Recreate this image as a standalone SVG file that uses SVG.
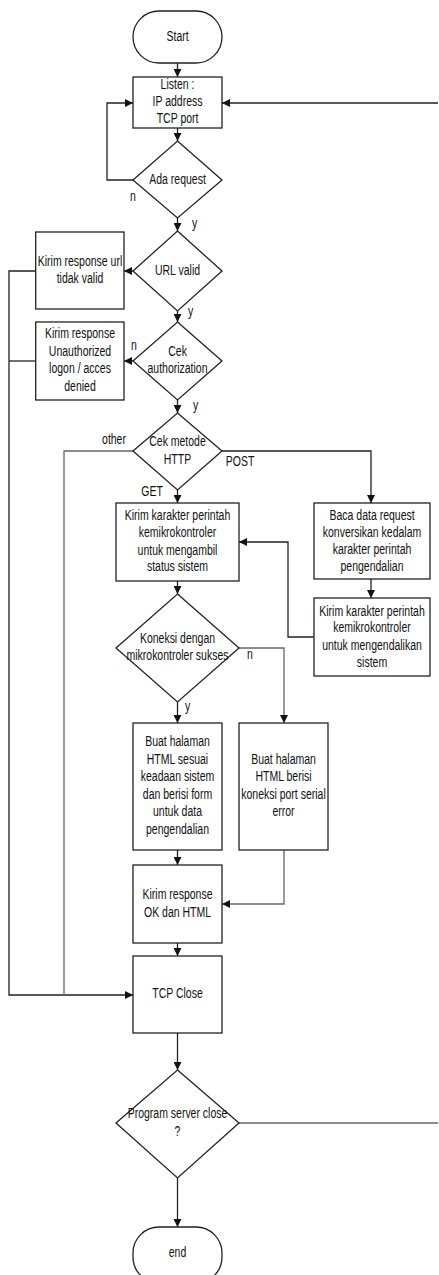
<svg xmlns="http://www.w3.org/2000/svg" width="439" height="1275" viewBox="0 0 439 1275">
<style>
.s{fill:#fff;stroke:#222;stroke-width:1.3}
.c{fill:none;stroke:#222;stroke-width:1.3}
.g{fill:none;stroke:#666;stroke-width:1.3}
text{font-family:"Liberation Sans",Arial,sans-serif;font-size:14px;fill:#111;text-anchor:middle;transform-box:fill-box;transform-origin:center;transform:scaleX(0.75)}
.l{text-anchor:start}
</style>
<defs>
<marker id="a" viewBox="0 0 10 10" refX="10" refY="5" markerWidth="8" markerHeight="8" markerUnits="userSpaceOnUse" orient="auto"><path d="M0,0L10,5L0,10z" fill="#111"/></marker>
</defs>
<g id="connectors">
<path class="c" d="M177.5,63V77" marker-end="url(#a)"/>
<path class="c" d="M438,103H222" marker-end="url(#a)"/>
<path class="c" d="M177.5,128V141" marker-end="url(#a)"/>
<path class="c" d="M133,180H107V103H133" marker-end="url(#a)"/>
<path class="c" d="M177.5,218V231" marker-end="url(#a)"/>
<path class="c" d="M133,271H124" marker-end="url(#a)"/>
<path class="c" d="M177.5,311V322" marker-end="url(#a)"/>
<path class="c" d="M133,361H124" marker-end="url(#a)"/>
<path class="c" d="M177.5,400V413" marker-end="url(#a)"/>
<path class="c" d="M35.7,271H9V995H133" marker-end="url(#a)"/>
<path class="c" d="M35.7,361H9"/>
<path class="g" d="M133,451H64V995"/>
<path class="c" d="M222,451H371V503" marker-end="url(#a)"/>
<path class="c" d="M177.5,490V503" marker-end="url(#a)"/>
<path class="c" d="M371,579V598" marker-end="url(#a)"/>
<path class="c" d="M314,637H288V542H239" marker-end="url(#a)"/>
<path class="c" d="M177.5,581V594" marker-end="url(#a)"/>
<path class="g" d="M239,648H284V723" marker-end="url(#a)"/>
<path class="c" d="M177.5,702V723" marker-end="url(#a)"/>
<path class="c" d="M177.5,850V865" marker-end="url(#a)"/>
<path class="g" d="M284,850V904H222" marker-end="url(#a)"/>
<path class="c" d="M177.5,943V956" marker-end="url(#a)"/>
<path class="c" d="M177.5,1033V1070" marker-end="url(#a)"/>
<path class="g" d="M239,1123H438"/>
<path class="c" d="M177.5,1178V1227" marker-end="url(#a)"/>
<text class="l" x="129" y="201">n</text>
<text class="l" x="191" y="228">y</text>
<text class="l" x="187" y="316">y</text>
<text class="l" x="130" y="350">n</text>
<text class="l" x="192" y="410">y</text>
<text x="114" y="444">other</text>
<text x="240" y="466">POST</text>
<text x="152" y="496">GET</text>
<text class="l" x="246" y="659">n</text>
<text class="l" x="184" y="711">y</text>
</g>
<g id="start"><rect class="s" x="133" y="11" width="89" height="52" rx="26" ry="26"/><text x="177.5" y="41.5">Start</text></g>
<g id="listen"><rect class="s" x="133" y="77" width="89" height="51"/><text x="177.5" y="89.5">Listen :</text><text x="177.5" y="106.5">IP address</text><text x="177.5" y="123.5">TCP port</text></g>
<g id="ada"><path class="s" d="M177.5,141L222,180L177.5,218L133,180Z"/><text x="177.5" y="184.5">Ada request</text></g>
<g id="url"><path class="s" d="M177.5,231L222,271L177.5,311L133,271Z"/><text x="177.5" y="275.5">URL valid</text></g>
<g id="urlresp"><rect class="s" x="35.7" y="232" width="88.3" height="77"/><text x="80" y="266.5">Kirim response url</text><text x="80" y="283.5">tidak valid</text></g>
<g id="auth"><path class="s" d="M177.5,322L222,361L177.5,400L133,361Z"/><text x="177.5" y="356.5">Cek</text><text x="177.5" y="373.5">authorization</text></g>
<g id="authresp"><rect class="s" x="35.7" y="322" width="88.3" height="78"/><text x="80" y="338.5">Kirim response</text><text x="80" y="356">Unauthorized</text><text x="80" y="373.5">logon / acces</text><text x="80" y="391">denied</text></g>
<g id="metode"><path class="s" d="M177.5,413L222,451L177.5,490L133,451Z"/><text x="177.5" y="446.5">Cek metode</text><text x="177.5" y="464.5">HTTP</text></g>
<g id="getbox"><rect class="s" x="116" y="503" width="123" height="78"/><text x="177.5" y="520.5">Kirim karakter perintah</text><text x="177.5" y="537.5">kemikrokontroler</text><text x="177.5" y="555">untuk mengambil</text><text x="177.5" y="571.5">status sistem</text></g>
<g id="baca"><rect class="s" x="314" y="503" width="116" height="76"/><text x="372" y="520.5">Baca data request</text><text x="372" y="537.5">konversikan kedalam</text><text x="372" y="554.5">karakter perintah</text><text x="372" y="571.5">pengendalian</text></g>
<g id="kirimpost"><rect class="s" x="314" y="598" width="116" height="78"/><text x="372" y="616.5">Kirim karakter perintah</text><text x="372" y="632.5">kemikrokontroler</text><text x="372" y="650.5">untuk mengendalikan</text><text x="372" y="667.5">sistem</text></g>
<g id="koneksi"><path class="s" d="M177.5,594L239,648L177.5,702L116,648Z"/><text x="177.5" y="643.5">Koneksi dengan</text><text x="177.5" y="660.5">mikrokontroler sukses</text></g>
<g id="buatok"><rect class="s" x="133" y="723" width="89" height="127"/><text x="177.5" y="746.5">Buat halaman</text><text x="177.5" y="764.5">HTML sesuai</text><text x="177.5" y="781.5">keadaan sistem</text><text x="177.5" y="799.5">dan berisi form</text><text x="177.5" y="816.5">untuk data</text><text x="177.5" y="834.5">pengendalian</text></g>
<g id="buaterr"><rect class="s" x="239" y="723" width="89" height="127"/><text x="283.5" y="764.5">Buat halaman</text><text x="283.5" y="781.5">HTML berisi</text><text x="283.5" y="799.5">koneksi port serial</text><text x="283.5" y="816.5">error</text></g>
<g id="respok"><rect class="s" x="133" y="865" width="89" height="78"/><text x="177.5" y="899.5">Kirim response</text><text x="177.5" y="917.5">OK dan HTML</text></g>
<g id="tcpclose"><rect class="s" x="133" y="956" width="89" height="77"/><text x="177.5" y="998.5">TCP Close</text></g>
<g id="progclose"><path class="s" d="M177.5,1070L239,1123L177.5,1178L116,1123Z"/><text x="177.5" y="1118.5">Program server close</text><text x="177.5" y="1136.5">?</text></g>
<g id="end"><rect class="s" x="133" y="1227" width="89" height="56" rx="26" ry="26"/><text x="177.5" y="1257.5">end</text></g>
</svg>
